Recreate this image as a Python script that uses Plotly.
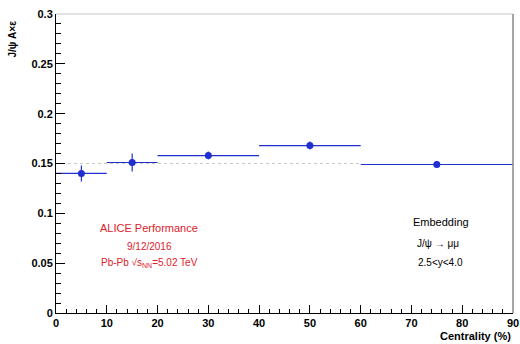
import plotly.graph_objects as go

# Data
centrality = [5, 15, 30, 50, 75]
bin_halfwidth = [5, 5, 10, 10, 15]
acc_eff = [0.140, 0.151, 0.158, 0.168, 0.149]
acc_eff_err = [0.008, 0.009, 0.004, 0.004, 0.003]
ref_x = [0, 60]
ref_y = [0.150, 0.150]

y_ticks = [0, 0.05, 0.1, 0.15, 0.2, 0.25, 0.3]
y_labels = ["0", "0.05", "0.1", "0.15", "0.2", "0.25", "0.3"]
x_ticks = [0, 10, 20, 30, 40, 50, 60, 70, 80, 90]

blue = "#1f2fd0"
font = "Liberation Sans"

fig = go.Figure()
fig.add_trace(go.Scatter(
    x=ref_x, y=ref_y, mode="lines",
    line=dict(color="#c8c8c8", width=1, dash="dot"),
    hoverinfo="skip", showlegend=False,
))
fig.add_trace(go.Scatter(
    x=centrality, y=acc_eff, mode="markers",
    marker=dict(color=blue, size=7, symbol="circle"),
    error_x=dict(type="data", array=bin_halfwidth, color=blue, thickness=1.2, width=0),
    error_y=dict(type="data", array=acc_eff_err, color=blue, thickness=1.2, width=0),
    showlegend=False,
))

tickfont = dict(family=font, size=11, color="black", weight="bold")

fig.update_layout(
    width=520, height=344,
    margin=dict(l=56, r=7, t=14, b=31, autoexpand=False),
    paper_bgcolor="white", plot_bgcolor="white",
    font=dict(family=font, size=11, color="black"),
    xaxis=dict(
        range=[0, 90], tickvals=x_ticks, ticks="inside", ticklen=8, tickwidth=1,
        tickcolor="black", showgrid=False, zeroline=False, automargin=False,
        showline=True, linecolor="black", linewidth=1,
        tickfont=tickfont, ticklabeloverflow="allow",
        minor=dict(dtick=2, ticks="inside", ticklen=4, tickcolor="black"),
    ),
    yaxis=dict(
        range=[0, 0.3], tickvals=y_ticks, ticktext=y_labels, ticks="inside",
        ticklen=9, tickwidth=1, tickcolor="black", showgrid=False, zeroline=False,
        automargin=False,
        showline=True, linecolor="black", linewidth=1,
        tickfont=tickfont, ticklabeloverflow="allow",
        minor=dict(dtick=0.01, ticks="inside", ticklen=5, tickcolor="black"),
    ),
    shapes=[
        dict(type="line", xref="paper", yref="paper", x0=0, x1=1, y0=1, y1=1,
             line=dict(color="#d8d8d8", width=1.5)),
        dict(type="line", xref="paper", yref="paper", x0=1, x1=1, y0=0, y1=1,
             line=dict(color="#888888", width=1.5)),
    ],
    annotations=[
        dict(text="<b>J/ψ A×ε</b>", xref="paper", yref="paper", x=-0.095, y=0.985,
             xanchor="center", yanchor="top", textangle=-90, showarrow=False,
             font=dict(size=10, color="black")),
        dict(text="<b>Centrality (%)</b>", xref="paper", yref="paper", x=1.0, y=-0.077,
             xanchor="right", yanchor="middle", showarrow=False,
             font=dict(size=11, color="black")),
        dict(text="ALICE Performance", xref="x", yref="y", x=18.4, y=0.0853,
             showarrow=False, font=dict(size=11, color="#e0202a")),
        dict(text="9/12/2016", xref="x", yref="y", x=18.4, y=0.0672,
             showarrow=False, font=dict(size=10, color="#e0202a")),
        dict(text="Pb-Pb √s<sub>NN</sub>=5.02 TeV", xref="x", yref="y", x=18.4, y=0.0502,
             showarrow=False, font=dict(size=10, color="#e0202a")),
        dict(text="Embedding", xref="x", yref="y", x=75.8, y=0.0913,
             showarrow=False, font=dict(size=11, color="black")),
        dict(text="J/ψ → μμ", xref="x", yref="y", x=75.3, y=0.0702,
             showarrow=False, font=dict(size=10, color="black")),
        dict(text="2.5&lt;y&lt;4.0", xref="x", yref="y", x=75.8, y=0.0502,
             showarrow=False, font=dict(size=10, color="black")),
    ],
)

fig.write_html("out.html")
